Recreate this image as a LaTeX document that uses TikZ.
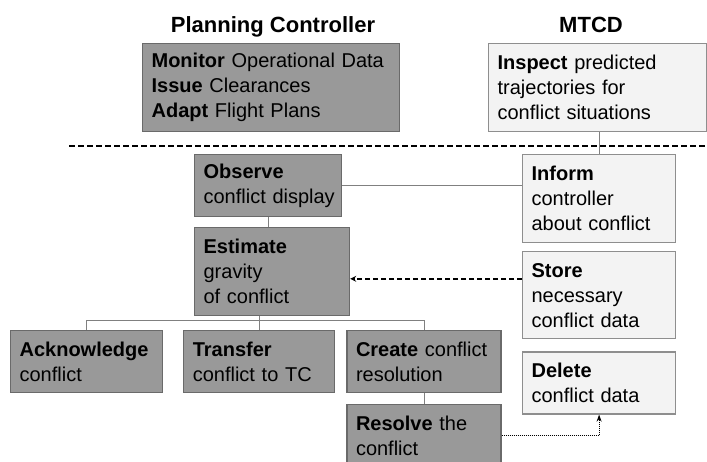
\documentclass[tikz,border=0pt]{standalone}
\usepackage{fontspec}
\setmainfont{Liberation Sans}
\usetikzlibrary{arrows.meta,positioning}
\definecolor{pcfill}{HTML}{999999}
\definecolor{pcline}{HTML}{6A6A6A}
\definecolor{sysfill}{HTML}{F3F3F3}
\definecolor{sysline}{HTML}{8E8E8E}
\definecolor{linkgray}{HTML}{808080}

\begin{document}
\begin{tikzpicture}[x=1pt, y=-1pt,
  box/.style={rectangle, align=left, inner xsep=9pt, inner ysep=2pt, line width=1.2pt, font=\fontsize{20}{25}\selectfont},
  pc/.style={box, draw=pcline, fill=pcfill},
  sys/.style={box, draw=sysline, fill=sysfill},
  title/.style={font=\fontsize{22}{26}\selectfont\bfseries, anchor=base},
  link/.style={draw=linkgray, line width=1pt},
  sep/.style={dashed, dash pattern=on 6pt off 3pt, line width=1.5pt},
  feed/.style={dash pattern=on 5pt off 3pt, line width=1.8pt, -{Stealth[length=6pt, width=6pt]}},
  note/.style={dash pattern=on 1pt off 1pt, line width=1pt, -{Stealth[length=7pt, width=5pt]}}]
\useasboundingbox (0,0) rectangle (707,461);
\clip (0,0) rectangle (707,461);

% column headings
\node[title] (pctitle) at (273,32) {Planning Controller};
\node[title] (mtcdtitle) at (591,32) {MTCD};

% upper tasks
\node[pc, anchor=north west, text width=239pt, minimum height=88pt] (plan) at (142,43)
  {\textbf{Monitor} Operational Data\\ \textbf{Issue} Clearances\\ \textbf{Adapt} Flight Plans};
\node[sys, anchor=north west, text width=200pt, minimum height=88pt] (inspect) at (488,43)
  {\textbf{Inspect} predicted\\ trajectories for\\ conflict situations};

\coordinate (sepL) at (69,146);
\coordinate (sepR) at (707,146);
\draw[sep] (sepL) -- (sepR);

% controller side
\node[pc, anchor=north west, text width=129pt, minimum height=62pt] (observe) at (194,154)
  {\textbf{Observe}\\ \mbox{conflict display}};
\node[pc, text width=137pt, minimum height=88pt, below=10pt of observe.south west, anchor=north west] (estimate)
  {\textbf{Estimate}\\ gravity\\ of conflict};
\node[pc, anchor=north west, text width=134pt, minimum height=62pt] (ack) at (10,330)
  {\textbf{Acknowledge}\\ conflict};
\node[pc, text width=133pt, minimum height=62pt, right=20pt of ack.north east, anchor=north west] (transfer)
  {\textbf{Transfer}\\ conflict to TC};
\node[pc, text width=136pt, minimum height=62pt, right=11pt of transfer.north east, anchor=north west] (create)
  {\textbf{Create} conflict\\ resolution};
\node[pc, text width=136pt, minimum height=62pt, below=11pt of create.south west, anchor=north west] (resolve)
  {\textbf{Resolve} the\\ conflict};

% MTCD side
\node[sys, anchor=north west, text width=135pt, minimum height=88pt] (inform) at (522,154)
  {\textbf{Inform}\\ controller\\ about conflict};
\node[sys, text width=135pt, minimum height=87pt, below=8pt of inform.south west, anchor=north west] (store)
  {\textbf{Store}\\ necessary\\ conflict data};
\node[sys, text width=135pt, minimum height=62pt, below=12pt of store.south west, anchor=north west] (delete)
  {\textbf{Delete}\\ conflict data};

% connectors
\draw[link] (inspect.south -| inform.north) -- (inform.north);
\draw[link] (observe.east) -- (observe.east -| inform.west);
\draw[link] (observe.south) -- (observe.south |- estimate.north);
\draw[link] (estimate.south -| transfer.north) -- (transfer.north);
\draw[link] (ack.north) -- ++(0,-10) -| (create.north);
\draw[link] (create.south) -- (resolve.north);
\coordinate (est) at ([yshift=-7pt]estimate.east);
\draw[feed] (est -| store.west) -- (est);
\draw[note] (resolve.east) -| (delete.south);
\end{tikzpicture}
\end{document}
